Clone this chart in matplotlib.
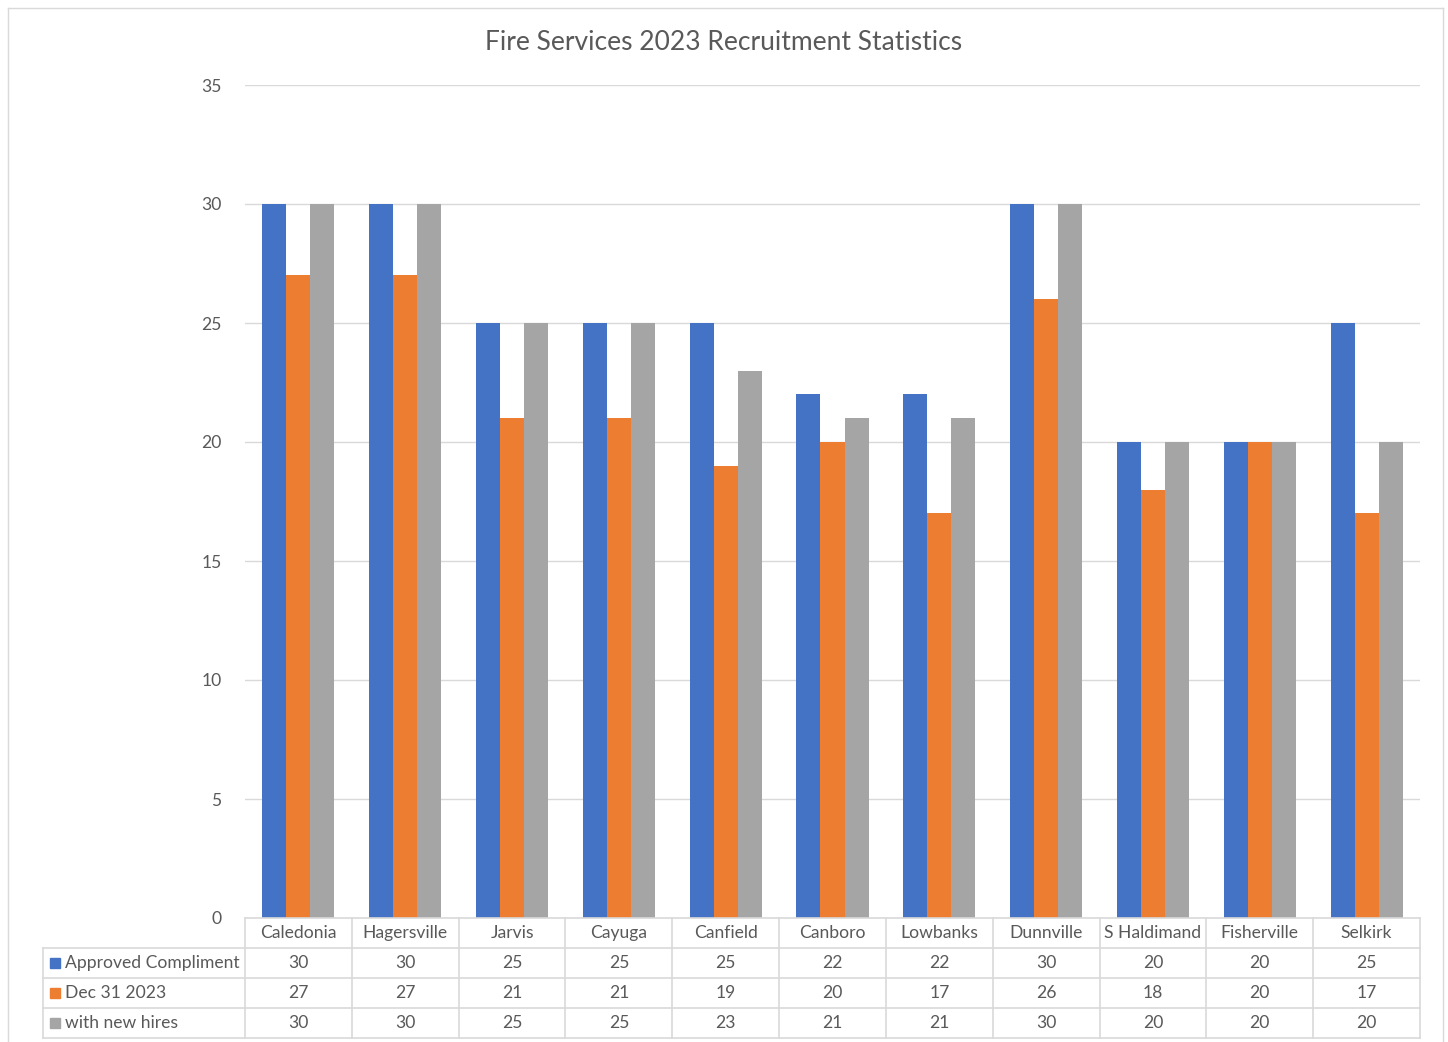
import numpy as np
import matplotlib.pyplot as plt
import matplotlib.transforms as mtransforms
from matplotlib.lines import Line2D
from matplotlib.patches import Rectangle

plt.rcParams['font.family'] = ['Lato', 'DejaVu Sans']

# Datos
stations = ['Caledonia', 'Hagersville', 'Jarvis', 'Cayuga', 'Canfield', 'Canboro',
            'Lowbanks', 'Dunnville', 'S Haldimand', 'Fisherville', 'Selkirk']
approved = [30, 30, 25, 25, 25, 22, 22, 30, 20, 20, 25]
dec_2023 = [27, 27, 21, 21, 19, 20, 17, 26, 18, 20, 17]
new_hires = [30, 30, 25, 25, 23, 21, 21, 30, 20, 20, 20]
series_names = ['Approved Compliment', 'Dec 31 2023', 'with new hires']
colors = ['#4472C4', '#ED7D31', '#A5A5A5']

W, H = 1448, 1042
fig = plt.figure(figsize=(W / 100, H / 100), dpi=100)

def fx(px):
    return px / W

def fy(py):
    return 1 - py / H

ax_left, ax_right, ax_top, ax_bot = 245, 1420, 85, 918
ax = fig.add_axes([fx(ax_left), fy(ax_bot), fx(ax_right - ax_left), fy(ax_top) - fy(ax_bot)])

txt = '#595959'
grid = '#D9D9D9'
fs = 12.6

x = np.arange(len(stations))
bw = 0.225
for k, vals in enumerate([approved, dec_2023, new_hires]):
    ax.bar(x + (k - 1) * bw, vals, bw, color=colors[k], zorder=3)

ax.set_xlim(-0.5, len(stations) - 0.5)
ax.set_ylim(0, 35)
ax.set_yticks(range(0, 36, 5))
ax.yaxis.grid(True, color=grid, linewidth=1, zorder=0)
ax.set_xticks([])
for s in ax.spines.values():
    s.set_visible(False)
ax.tick_params(axis='y', length=0, pad=17, labelsize=fs, labelcolor=txt)

fig.text(0.5, fy(42), 'Fire Services 2023 Recruitment Statistics',
         ha='center', va='center', fontsize=19, color=txt)

# Tabla de datos
tr = mtransforms.blended_transform_factory(ax.transData, fig.transFigure)
row_y = [918, 948, 978, 1008, 1038]
lab_left = 43

def hline(py, x0_px, x1_px):
    fig.add_artist(Line2D([fx(x0_px), fx(x1_px)], [fy(py), fy(py)],
                          color=grid, lw=1.2, transform=fig.transFigure))

def vline(px, y0, y1):
    fig.add_artist(Line2D([fx(px), fx(px)], [fy(y0), fy(y1)],
                          color=grid, lw=1.2, transform=fig.transFigure))

hline(row_y[0], ax_left, ax_right)
for py in row_y[1:]:
    hline(py, lab_left, ax_right)
vline(lab_left, row_y[1], row_y[4])
vline(ax_left, row_y[0], row_y[4])
for i in range(len(stations)):
    xr = ax_left + (i + 1) * (ax_right - ax_left) / len(stations)
    vline(xr, row_y[0], row_y[4])

for i, name in enumerate(stations):
    fig.text(i, (fy(row_y[0]) + fy(row_y[1])) / 2, name, transform=tr,
             ha='center', va='center', fontsize=fs, color=txt)
for r, vals in enumerate([approved, dec_2023, new_hires]):
    yc = (fy(row_y[r + 1]) + fy(row_y[r + 2])) / 2
    for i, v in enumerate(vals):
        fig.text(i, yc, str(v), transform=tr, ha='center', va='center',
                 fontsize=fs, color=txt)
    fig.add_artist(Rectangle((fx(50), yc - fy(0) + fy(5)), fx(10), fy(0) - fy(10),
                             color=colors[r], transform=fig.transFigure))
    fig.text(fx(65), yc, series_names[r], ha='left', va='center',
             fontsize=fs, color=txt)

# Borde exterior
for args in [([fx(8), fx(8)], [fy(8), 0]), ([fx(1443), fx(1443)], [fy(8), 0]),
             ([fx(8), fx(1443)], [fy(8), fy(8)])]:
    fig.add_artist(Line2D(*args, color='#D9D9D9', lw=1, transform=fig.transFigure))

plt.savefig('out.png', dpi=100)
plt.close()
